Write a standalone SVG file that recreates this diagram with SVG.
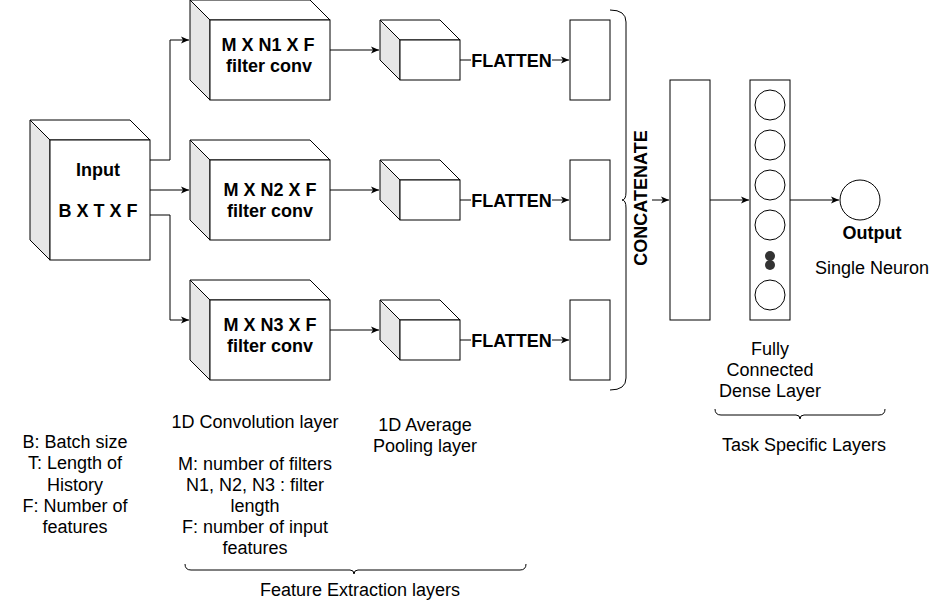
<svg xmlns="http://www.w3.org/2000/svg" width="943" height="601" viewBox="0 0 943 601">
<defs>
<marker id="arr" markerWidth="10" markerHeight="10" refX="9" refY="5" orient="auto" markerUnits="userSpaceOnUse">
<path d="M1,1.5 L9,5 L1,8.5 L3,5 Z" fill="#000"/>
</marker>
</defs>
<style>
text{font-family:"Liberation Sans",Arial,sans-serif;font-size:18px;fill:#000;text-anchor:middle}
.b{font-weight:bold}
.face{fill:#fff;stroke:#000;stroke-width:1}
.side{fill:#e6e6e6;stroke:#000;stroke-width:1}
.ln{fill:none;stroke:#000;stroke-width:1}
.br{fill:none;stroke:#000;stroke-width:1}
.c{fill:#fff;stroke:#000;stroke-width:1}
</style>
<rect width="943" height="601" fill="#fff"/>

<g id="connectors">
<path class="ln" d="M150,160 H170 V40 H189" marker-end="url(#arr)"/>
<path class="ln" d="M150,190 H189" marker-end="url(#arr)"/>
<path class="ln" d="M150,215 H170 V320 H189" marker-end="url(#arr)"/>
<path class="ln" d="M330,50 H379" marker-end="url(#arr)"/>
<path class="ln" d="M330,190 H379" marker-end="url(#arr)"/>
<path class="ln" d="M330,330 H379" marker-end="url(#arr)"/>
<path class="ln" d="M460,60 H471"/>
<path class="ln" d="M460,200 H471"/>
<path class="ln" d="M460,340 H471"/>
<path class="ln" d="M552,60 H569" marker-end="url(#arr)"/>
<path class="ln" d="M552,200 H569" marker-end="url(#arr)"/>
<path class="ln" d="M552,340 H569" marker-end="url(#arr)"/>
<path class="ln" d="M652,200 H669" marker-end="url(#arr)"/>
<path class="ln" d="M710,200 H749" marker-end="url(#arr)"/>
<path class="ln" d="M790,200 H839" marker-end="url(#arr)"/>
</g>

<g id="input">
<polygon class="side" points="30,120 50,140 50,260 30,240"/>
<polygon class="face" points="30,120 130,120 150,140 50,140"/>
<rect class="face" x="50" y="140" width="100" height="120"/>
<text class="b" x="98" y="176">Input</text>
<text class="b" x="98" y="217">B X T X F</text>
</g>

<g id="conv1">
<polygon class="side" points="190,0 210,20 210,100 190,80"/>
<polygon class="face" points="190,0 310,0 330,20 210,20"/>
<rect class="face" x="210" y="20" width="120" height="80"/>
<text class="b" x="268" y="51">M X N1 X F</text>
<text class="b" x="269" y="72">filter conv</text>
</g>
<g id="conv2">
<polygon class="side" points="190,140 210,160 210,240 190,220"/>
<polygon class="face" points="190,140 310,140 330,160 210,160"/>
<rect class="face" x="210" y="160" width="120" height="80"/>
<text class="b" x="270" y="196">M X N2 X F</text>
<text class="b" x="270" y="217">filter conv</text>
</g>
<g id="conv3">
<polygon class="side" points="190,280 210,300 210,380 190,360"/>
<polygon class="face" points="190,280 310,280 330,300 210,300"/>
<rect class="face" x="210" y="300" width="120" height="80"/>
<text class="b" x="270" y="331">M X N3 X F</text>
<text class="b" x="270" y="352">filter conv</text>
</g>

<g id="pool1">
<polygon class="side" points="380,20 400,40 400,80 380,60"/>
<polygon class="face" points="380,20 440,20 460,40 400,40"/>
<rect class="face" x="400" y="40" width="60" height="40"/>
</g>
<g id="pool2">
<polygon class="side" points="380,160 400,180 400,220 380,200"/>
<polygon class="face" points="380,160 440,160 460,180 400,180"/>
<rect class="face" x="400" y="180" width="60" height="40"/>
</g>
<g id="pool3">
<polygon class="side" points="380,300 400,320 400,360 380,340"/>
<polygon class="face" points="380,300 440,300 460,320 400,320"/>
<rect class="face" x="400" y="320" width="60" height="40"/>
</g>

<g id="flatten1"><text class="b" x="511.5" y="67">FLATTEN</text></g>
<g id="flatten2"><text class="b" x="511.5" y="207">FLATTEN</text></g>
<g id="flatten3"><text class="b" x="511.5" y="347">FLATTEN</text></g>

<g id="flat1"><rect class="face" x="570" y="20" width="40" height="80"/></g>
<g id="flat2"><rect class="face" x="570" y="160" width="40" height="80"/></g>
<g id="flat3"><rect class="face" x="570" y="300" width="40" height="80"/></g>

<g id="concat-brace">
<path class="br" d="M610,10 Q626,10 626,22 V192 Q626,200 622,200 Q626,200 626,208 V378 Q626,390 610,390"/>
</g>
<g id="concatenate">
<text class="b" transform="translate(647,198) rotate(-90)">CONCATENATE</text>
</g>

<g id="concat-layer"><rect class="face" x="670" y="80" width="40" height="240"/></g>

<g id="dense">
<rect class="face" x="750" y="80" width="40" height="240"/>
<circle class="c" cx="770" cy="105" r="15"/>
<circle class="c" cx="770" cy="145" r="15"/>
<circle class="c" cx="770" cy="185" r="15"/>
<circle class="c" cx="770" cy="225" r="15"/>
<circle cx="770" cy="256" r="5" fill="#333"/>
<circle cx="770" cy="265" r="5" fill="#333"/>
<circle class="c" cx="770" cy="295" r="15"/>
</g>

<g id="output">
<circle class="c" cx="860" cy="200" r="20"/>
<text class="b" x="872" y="239">Output</text>
<text x="872" y="274">Single Neuron</text>
</g>

<g id="dense-label">
<text x="770" y="355">Fully</text>
<text x="770" y="376">Connected</text>
<text x="770" y="397">Dense Layer</text>
</g>

<g id="task-brace">
<path class="br" d="M715,409 Q715,415 721,415 H796 Q800,415 800,419 Q800,415 804,415 H879 Q885,415 885,409"/>
<text x="804" y="451">Task Specific Layers</text>
</g>

<g id="legend">
<text x="75" y="448">B: Batch size</text>
<text x="75" y="469">T: Length of</text>
<text x="75" y="491">History</text>
<text x="75" y="512">F: Number of</text>
<text x="75" y="533">features</text>
</g>

<g id="conv-label">
<text x="255" y="428">1D Convolution layer</text>
<text x="255" y="470">M: number of filters</text>
<text x="255" y="491">N1, N2, N3 : filter</text>
<text x="255" y="512">length</text>
<text x="255" y="533">F: number of input</text>
<text x="255" y="554">features</text>
</g>

<g id="pool-label">
<text x="425" y="431">1D Average</text>
<text x="425" y="452">Pooling layer</text>
</g>

<g id="feature-brace">
<path class="br" d="M185,564 Q185,570 191,570 H350 Q354,570 354,574 Q354,570 358,570 H520 Q526,570 526,564"/>
<text x="360" y="596">Feature Extraction layers</text>
</g>
</svg>
